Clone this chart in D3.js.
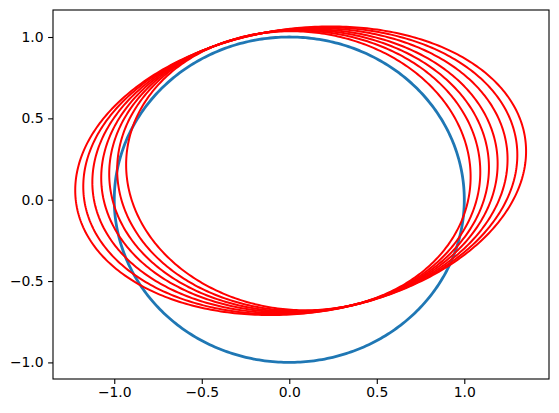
<!DOCTYPE html>
<html>
<head>
<meta charset="utf-8">
<script src="https://d3js.org/d3.v7.min.js"></script>
<style>
  html, body { margin: 0; padding: 0; background: #fff; }
  svg { display: block; }
  text { font-family: "DejaVu Sans", sans-serif; font-size: 13.9px; fill: #000; }
</style>
</head>
<body>
<svg id="chart" width="559" height="413"></svg>
<script>
// ---- data ----
const xLimits = [-1.350, 1.484];
const yLimits = [-1.102, 1.166];
const xTicks = [-1.0, -0.5, 0.0, 0.5, 1.0];
const yTicks = [-1.0, -0.5, 0.0, 0.5, 1.0];

// blue unit circle
const circleCenter = [0, 0];
const circleRadius = 1;

// red ellipses (inner -> outer)
const ellipseCx = [0.052, 0.054, 0.056, 0.058, 0.061, 0.063, 0.065];
const ellipseCy = [0.178, 0.178, 0.178, 0.178, 0.178, 0.178, 0.178];
const ellipseStretch = [0.745, 0.79, 0.83, 0.87, 0.915, 0.96, 1.0];
const outerHalfWidth = 1.288;   // x half-extent of outer ellipse
const outerHalfHeight = 0.887;  // y half-extent of outer ellipse
const outerTiltY = 0.12;        // y offset of outer ellipse's rightmost point
const stretchAngleDeg = 18;

// ---- layout ----
const W = 559, H = 413;
const m = { left: 53, right: 549, top: 10, bottom: 379 };
const svg = d3.select("#chart");

const x = d3.scaleLinear().domain(xLimits).range([m.left, m.right]);
const y = d3.scaleLinear().domain(yLimits).range([m.bottom, m.top]);

const N = 400;
const ts = d3.range(N + 1).map(i => (i / N) * 2 * Math.PI);
const line = d3.line().x(d => x(d[0])).y(d => y(d[1]));

const plot = svg.append("g");

// blue circle
const circPts = ts.map(t => [circleCenter[0] + circleRadius * Math.cos(t),
                             circleCenter[1] + circleRadius * Math.sin(t)]);
plot.append("path").attr("d", line(circPts))
  .attr("fill", "none").attr("stroke", "#1f77b4").attr("stroke-width", 2.8);

// red ellipses
const a = stretchAngleDeg * Math.PI / 180;
const ca = Math.cos(a), sa = Math.sin(a);
const vy = Math.sqrt(outerHalfHeight * outerHalfHeight - outerTiltY * outerTiltY);
ellipseStretch.forEach((s, i) => {
  const k = s - 1;
  const pts = ts.map(t => {
    const bx = outerHalfWidth * Math.cos(t);
    const by = outerTiltY * Math.cos(t) + vy * Math.sin(t);
    const proj = bx * ca + by * sa;
    return [ellipseCx[i] + bx + k * proj * ca, ellipseCy[i] + by + k * proj * sa];
  });
  plot.append("path").attr("d", line(pts))
    .attr("fill", "none").attr("stroke", "#ff0000").attr("stroke-width", 2.0);
});

// axes frame
svg.append("rect")
  .attr("x", m.left).attr("y", m.top)
  .attr("width", m.right - m.left).attr("height", m.bottom - m.top)
  .attr("fill", "none").attr("stroke", "#000").attr("stroke-width", 1.1);

const fmt = v => (v < 0 ? "\u2212" : "") + Math.abs(v).toFixed(1);

// x axis
const xAxis = d3.axisBottom(x).tickValues(xTicks).tickSize(4.9).tickPadding(3.5).tickFormat(fmt);
const gx = svg.append("g").attr("transform", `translate(0,${m.bottom})`).call(xAxis);
gx.select(".domain").remove();
gx.selectAll(".tick line").attr("stroke", "#000").attr("stroke-width", 1.1);
gx.selectAll(".tick text").attr("font-size", "13.9px").attr("font-family", "DejaVu Sans").attr("fill", "#000");

// y axis
const yAxis = d3.axisLeft(y).tickValues(yTicks).tickSize(4.9).tickPadding(4.5).tickFormat(fmt);
const gy = svg.append("g").attr("transform", `translate(${m.left},0)`).call(yAxis);
gy.select(".domain").remove();
gy.selectAll(".tick line").attr("stroke", "#000").attr("stroke-width", 1.1);
gy.selectAll(".tick text").attr("font-size", "13.9px").attr("font-family", "DejaVu Sans").attr("fill", "#000");
</script>
</body>
</html>
